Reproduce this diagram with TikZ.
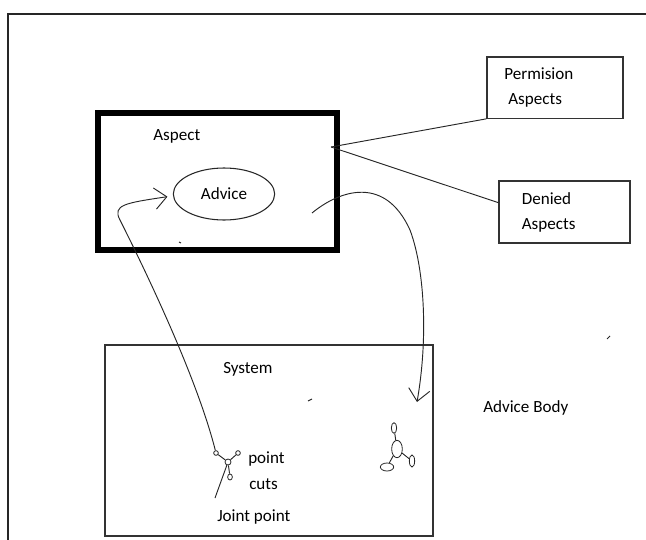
\documentclass[tikz,border=0pt]{standalone}
\usepackage{fontspec}
\setmainfont{Carlito}
\usepackage{tikz}
\usetikzlibrary{arrows.meta,shapes.geometric}

\begin{document}
\begin{tikzpicture}[x=0.75pt,y=-0.75pt,
  font=\fontsize{12.8}{18.75}\selectfont,
  >={Straight Barb[length=9pt,width=16pt]},
  frame/.style={draw=black!85,line width=1.5pt},
  box/.style={draw=black!80,line width=1pt,align=left,inner sep=0pt},
  thickbox/.style={draw=black,line width=4.5pt,minimum width=179.25pt,minimum height=102.75pt},
  oval/.style={ellipse,draw=black!85,line width=0.8pt,minimum width=76pt,minimum height=39pt,inner sep=0pt},
  wire/.style={draw=black!85,line width=0.7pt},
  blob/.style={ellipse,draw=black!85,line width=0.6pt,inner sep=0pt},
  lbl/.style={inner sep=0pt,anchor=base west},
  ]
  \useasboundingbox (0,0) rectangle (646,539);
  % ---- outer frame (open at right and bottom) ----
  \draw[frame] (8,545) -- (8,14) -- (650,14);

  % ---- Aspect with its Advice ----
  \node[thickbox] (aspect) at (217.5,181.5) {};
  \node[lbl] (aspectlbl) at (153,140) {Aspect};
  \node[oval] (advice) at (224,194) {Advice};
  \coordinate (hub) at (331,147);

  % ---- permitted / denied aspects ----
  \node[box,minimum width=102pt,minimum height=46pt,text width=76pt] (perm) at (555,87.5)
     {Permision\\\hspace{3pt}Aspects};
  \node[box,minimum width=98.25pt,minimum height=46.5pt,text width=64pt] (denied) at (564.5,212)
     {Denied\\Aspects};
  \draw[wire] (hub) -- (perm.south west);
  \draw[wire] (hub) -- ([yshift=7pt]denied.west);

  % ---- System ----
  \node[box,minimum width=246pt,minimum height=143.25pt] (system) at (269,440.5) {};
  \node[lbl] (systemlbl) at (223,373) {System};
  \node[lbl] (bodylbl) at (483,412) {Advice Body};

  % joint point glyph
  \node[blob,minimum width=3.5pt,minimum height=3.5pt] (jl) at (216,453) {};
  \node[blob,minimum width=4.5pt,minimum height=4.5pt] (jc) at (228,462) {};
  \node[blob,minimum width=3.5pt,minimum height=3.5pt] (jr) at (238,453) {};
  \node[blob,minimum width=3.5pt,minimum height=4.5pt] (jb) at (230,477) {};
  \coordinate (jtail) at (215,498);
  \draw[wire] (jl) -- (jc) -- (jr);
  \draw[wire] (jc) -- (jb);
  \draw[wire] (jc) -- (jtail);
  \node[lbl] (pointlbl) at (248,463) {point};
  \node[lbl] (cutslbl) at (249,489) {cuts};
  \node[lbl] (jointlbl) at (217,521) {Joint point};

  % advice body glyph
  \node[blob,minimum width=4pt,minimum height=8pt] (bt) at (394,428) {};
  \node[blob,minimum width=8pt,minimum height=13pt] (bring) at (397,449) {};
  \node[blob,minimum width=4pt,minimum height=9pt] (brr) at (412,461) {};
  \node[blob,minimum width=10pt,minimum height=6pt] (bbl) at (387,467) {};
  \draw[wire] (bt) -- (bring);
  \draw[wire] (bring) -- (brr);
  \draw[wire] (bring) -- (bbl);

  % ---- flows ----
  \coordinate (bodystart) at (312,213);
  \coordinate (bodyend) at (417,402);
  \draw[wire,->] (bodystart) .. controls (340,190) and (385,175) .. (410,230)
        .. controls (425,270) and (428,340) .. (bodyend);
  \draw[wire,->] (jl) .. controls (195,370) and (135,250) .. (120,220)
        .. controls (112,205) and (125,203) .. ([xshift=-4pt,yshift=-2pt]advice.west);

  % stray marks
  \draw[wire] (179,242) -- (181,243);
  \draw[wire] (308,401) -- (312,399);
  \draw[wire] (607,339) -- (610,336);
\end{tikzpicture}
\end{document}
